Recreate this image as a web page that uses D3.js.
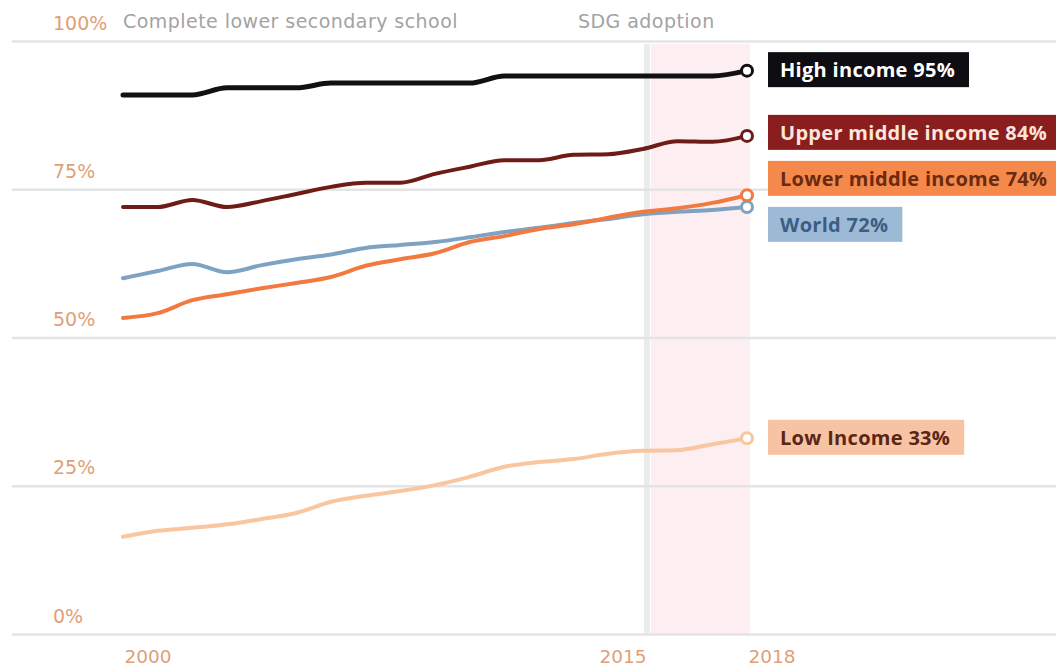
<!DOCTYPE html>
<html>
<head>
<meta charset="utf-8">
<script src="https://cdn.jsdelivr.net/npm/d3@7"></script>
<style>
  body { margin: 0; background: #fff; }
  svg { display: block; }
</style>
</head>
<body>
<svg id="chart" width="1056" height="671"></svg>
<script>
// Completion rate, lower secondary school, by income group (%)
const years = [2000, 2001, 2002, 2003, 2004, 2005, 2006, 2007, 2008, 2009,
               2010, 2011, 2012, 2013, 2014, 2015, 2016, 2017, 2018];

const highIncome  = [90.9, 90.9, 90.9, 92.1, 92.1, 92.1, 92.9, 92.9, 92.9, 92.9,
                     92.9, 94.1, 94.1, 94.1, 94.1, 94.1, 94.1, 94.1, 95.0];
const upperMiddle = [72.0, 72.0, 73.2, 72.0, 73.0, 74.2, 75.4, 76.1, 76.1, 77.6,
                     78.8, 79.9, 79.9, 80.8, 80.9, 81.8, 83.1, 83.0, 84.0];
const lowerMiddle = [53.3, 54.1, 56.3, 57.3, 58.3, 59.2, 60.2, 62.1, 63.2, 64.2,
                     66.1, 67.1, 68.3, 69.1, 70.2, 71.2, 71.8, 72.7, 74.0];
const world       = [60.0, 61.2, 62.4, 61.0, 62.2, 63.2, 64.0, 65.1, 65.6, 66.1,
                     66.9, 67.8, 68.5, 69.3, 70.0, 70.8, 71.2, 71.5, 72.0];
const lowIncome   = [16.4, 17.4, 17.9, 18.5, 19.4, 20.4, 22.3, 23.3, 24.1, 25.1,
                     26.5, 28.2, 29.0, 29.5, 30.4, 30.9, 31.0, 32.0, 33.0];

const seriesNames = ["Low Income", "World", "Lower middle income", "Upper middle income", "High income"];
const seriesValues = [lowIncome, world, lowerMiddle, upperMiddle, highIncome];

const yTicks = [0, 25, 50, 75, 100];
const xTickYears = [2000, 2015, 2018];
const sdgYear = 2015;
const chartTitle = "Complete lower secondary school";
const sdgLabel = "SDG adoption";

// Styling per series (line colour, label box fill, label text colour)
const styles = {
  "High income":          { line: "#111111", box: "#0d0d12", text: "#ffffff" },
  "Upper middle income":  { line: "#6e1c18", box: "#8a1d1d", text: "#fae6dc" },
  "Lower middle income":  { line: "#f27a40", box: "#f5894c", text: "#6b2a10" },
  "World":                { line: "#7ea2c2", box: "#9cbad6", text: "#3c5e84" },
  "Low Income":           { line: "#f8c6a0", box: "#f7c3a2", text: "#5a2617" }
};

const svg = d3.select("#chart");
const W = 1056;
const axisFont = "'DejaVu Sans', sans-serif";

const x = d3.scaleLinear().domain([years[0], years[years.length - 1]]).range([123, 747]);
const y = d3.scaleLinear().domain([0, 100]).range([634, 41]);

// SDG period shading and marker rule
svg.append("rect")
  .attr("x", x(sdgYear) + 8)
  .attr("y", y(100) + 3)
  .attr("width", x(years[years.length - 1]) + 3 - (x(sdgYear) + 8))
  .attr("height", y(0) - y(100) - 3)
  .attr("fill", "#fdeef2");

svg.append("line")
  .attr("x1", x(sdgYear) + 4).attr("x2", x(sdgYear) + 4)
  .attr("y1", y(100) + 3).attr("y2", y(0))
  .attr("stroke", "#ececec").attr("stroke-width", 6);

// Horizontal gridlines with percentage labels
const yAxis = d3.axisLeft(y).tickValues(yTicks).tickSize(-(W - 12)).tickFormat(d => d + "%");
const gy = svg.append("g").attr("transform", "translate(12,0)").call(yAxis);
gy.select(".domain").remove();
gy.selectAll(".tick line").attr("stroke", "#e4e4e4").attr("stroke-width", 2.5);
gy.selectAll(".tick text")
  .attr("x", 41).attr("dy", -12)
  .attr("text-anchor", "start")
  .attr("fill", "#dfa077")
  .style("font-family", axisFont)
  .style("font-size", "19px");

// Chart heading and SDG annotation
svg.append("text")
  .attr("x", 123).attr("y", y(100) - 13)
  .attr("fill", "#a3a3a3")
  .style("font-family", axisFont)
  .style("font-size", "19px")
  .style("letter-spacing", "0.45px")
  .text(chartTitle);

svg.append("text")
  .attr("x", x(sdgYear) - 65).attr("y", y(100) - 13)
  .attr("fill", "#a3a3a3")
  .style("font-family", axisFont)
  .style("font-size", "19px")
  .style("letter-spacing", "0.45px")
  .text(sdgLabel);

// X axis labels
const xAxis = d3.axisBottom(x).tickValues(xTickYears).tickSize(0).tickFormat(d3.format("d"));
const gx = svg.append("g").attr("transform", `translate(0,${y(0)})`).call(xAxis);
gx.select(".domain").remove();
gx.selectAll(".tick text")
  .attr("y", 29)
  .attr("dy", 0)
  .attr("text-anchor", d => d === sdgYear ? "end" : "start")
  .attr("dx", d => d === sdgYear ? 3 : 1)
  .attr("fill", "#dfa077")
  .style("font-family", axisFont)
  .style("font-size", "18.5px");

// Lines
const line = d3.line()
  .x((d, i) => x(years[i]))
  .y(d => y(d))
  .curve(d3.curveMonotoneX);

const series = seriesNames.map((name, k) => ({ name, values: seriesValues[k] }));

svg.append("g").selectAll("path")
  .data(series)
  .join("path")
  .attr("d", d => line(d.values))
  .attr("fill", "none")
  .attr("stroke", d => styles[d.name].line)
  .attr("stroke-width", d => d.name === "High income" ? 5 : 4)
  .attr("stroke-linejoin", "round")
  .attr("stroke-linecap", "round");

// End-point markers
svg.append("g").selectAll("circle")
  .data(series)
  .join("circle")
  .attr("cx", x(years[years.length - 1]))
  .attr("cy", d => y(d.values[d.values.length - 1]))
  .attr("r", 5.5)
  .attr("fill", "#fff")
  .attr("stroke", d => styles[d.name].line)
  .attr("stroke-width", 3);

// End labels, spread apart so boxes do not overlap
const labels = series.map(d => {
  const last = d.values[d.values.length - 1];
  return { name: d.name, value: last, y: y(last) };
}).sort((a, b) => a.y - b.y);

const minGap = 46;
for (let iter = 0; iter < 50; iter++) {
  for (let i = 1; i < labels.length; i++) {
    const a = labels[i - 1], b = labels[i];
    const overlap = minGap - (b.y - a.y);
    if (overlap > 0) { a.y -= overlap / 2; b.y += overlap / 2; }
  }
}

const lg = svg.append("g").selectAll("g")
  .data(labels)
  .join("g")
  .attr("transform", d => `translate(768,${d.y - 1})`);

const boxH = 35, padL = 12, padR = 14;

lg.append("rect")
  .attr("y", -boxH / 2)
  .attr("height", boxH)
  .attr("fill", d => styles[d.name].box);

lg.append("text")
  .attr("x", padL)
  .attr("dy", "0.36em")
  .attr("fill", d => styles[d.name].text)
  .style("font-family", "'Open Sans', sans-serif")
  .style("font-weight", "bold")
  .style("font-size", "20px")
  .style("letter-spacing", "0.3px")
  .text(d => `${d.name} ${Math.round(d.value)}%`);

lg.each(function() {
  const g = d3.select(this);
  const w = g.select("text").node().getComputedTextLength();
  g.select("rect").attr("width", padL + w + padR);
});
</script>
</body>
</html>
